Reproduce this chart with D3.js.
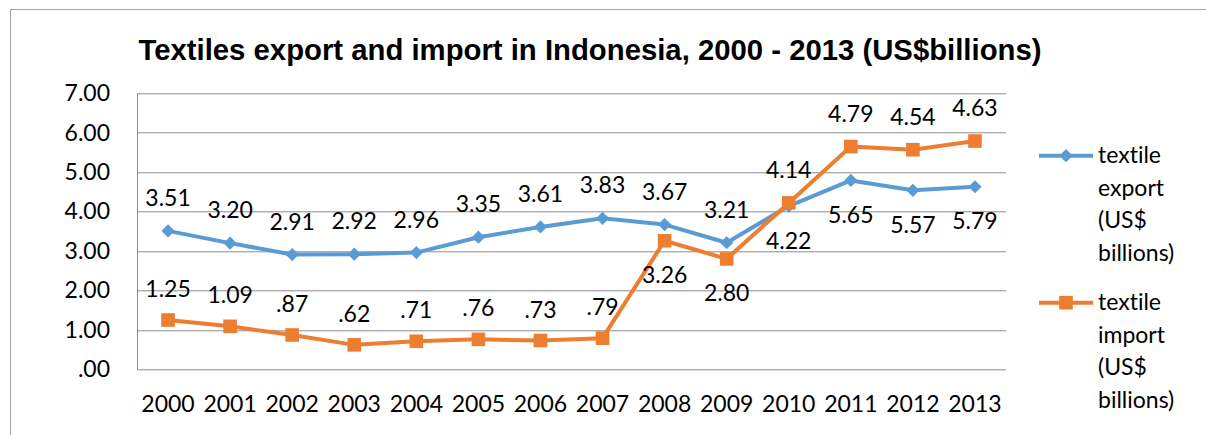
<!DOCTYPE html>
<meta charset="utf-8">
<title>Textiles export and import in Indonesia</title>
<style>
  body { margin: 0; background: #fff; }
  text { font-family: Lato, "Open Sans", sans-serif; fill: #000; font-variant-ligatures: none; }
  .title { font-family: "Liberation Sans", Arial, sans-serif; font-weight: bold; }
</style>
<body>
<script src="https://d3js.org/d3.v7.min.js"></script>
<div id="chart"></div>
<script>
// data
var years = ["2000", "2001", "2002", "2003", "2004", "2005", "2006",
             "2007", "2008", "2009", "2010", "2011", "2012", "2013"];
var exportVals = [3.51, 3.20, 2.91, 2.92, 2.96, 3.35, 3.61, 3.83, 3.67, 3.21, 4.14, 4.79, 4.54, 4.63];
var importVals = [1.25, 1.09, 0.87, 0.62, 0.71, 0.76, 0.73, 0.79, 3.26, 2.80, 4.22, 5.65, 5.57, 5.79];
var yTicks = [0, 1, 2, 3, 4, 5, 6, 7];
// where the import data labels sit in the original
var importLabelSide = ["above", "above", "above", "above", "above", "above", "above",
                       "above", "below", "below", "below", "below", "below", "below"];
var exportLegend = ["textile", "export", "(US$", "billions)"];
var importLegend = ["textile", "import", "(US$", "billions)"];
var titleText = "Textiles export and import in Indonesia, 2000 - 2013 (US$billions)";

var W = 1206, H = 435;
var margin = {top: 93.3, right: 200, bottom: 66, left: 137},
    width = 1006 - margin.left,
    height = 369.3 - margin.top;

var blue = "#5b9bd5", orange = "#ed7d31", grid = "#8c8c8c";
var fontSize = 23;

var svg = d3.select("#chart")
  .append("svg")
    .attr("width", W)
    .attr("height", H);

// outer chart border (runs off the right and bottom edge)
svg.append("rect")
  .attr("x", 10.5).attr("y", 9.5)
  .attr("width", W).attr("height", H)
  .attr("fill", "none")
  .attr("stroke", "#a6a6a6")
  .attr("stroke-width", 1);

svg.append("text")
  .attr("class", "title")
  .attr("x", 590)
  .attr("y", 59.5)
  .attr("text-anchor", "middle")
  .style("font-size", "29.3px")
  .text(titleText);

var g = svg.append("g")
  .attr("transform", "translate(" + margin.left + "," + margin.top + ")");

var x = d3.scaleBand()
  .domain(years)
  .range([0, width]);

var y = d3.scaleLinear()
  .domain([0, 7])
  .range([height, 0]);

function cx(i) { return x(years[i]) + x.bandwidth() / 2; }

// gridlines
g.append("g")
  .selectAll("line")
  .data(yTicks)
  .enter().append("line")
    .attr("x1", 0).attr("x2", width)
    .attr("y1", function(d) { return Math.round(y(d)) + 0.5; })
    .attr("y2", function(d) { return Math.round(y(d)) + 0.5; })
    .attr("stroke", grid)
    .attr("stroke-width", 1);

// value axis line
g.append("line")
  .attr("x1", 0.5).attr("x2", 0.5)
  .attr("y1", 0).attr("y2", height)
  .attr("stroke", grid);

// y axis labels
var yAxis = g.append("g")
  .call(d3.axisLeft(y).tickValues(yTicks).tickSize(0).tickPadding(27)
    .tickFormat(function(d) { return d3.format(".2f")(d).replace(/^0/, ""); }));
yAxis.select(".domain").remove();
yAxis.selectAll("text").style("font-size", fontSize + "px").attr("font-family", null);

// x axis labels
var xAxis = g.append("g")
  .attr("transform", "translate(0," + height + ")")
  .call(d3.axisBottom(x).tickSize(0).tickPadding(26));
xAxis.select(".domain").remove();
xAxis.selectAll("text").style("font-size", fontSize + "px").attr("font-family", null);

var line = d3.line()
  .x(function(d, i) { return cx(i); })
  .y(function(d) { return y(d); });

function diamond(s) { return "M0," + (-s) + "L" + s + ",0L0," + s + "L" + (-s) + ",0Z"; }

// export series
g.append("path")
  .datum(exportVals)
  .attr("d", line)
  .attr("fill", "none")
  .attr("stroke", blue)
  .attr("stroke-width", 4)
  .attr("stroke-linejoin", "round");

g.append("g")
  .selectAll("path")
  .data(exportVals)
  .enter().append("path")
    .attr("d", diamond(6.6))
    .attr("transform", function(d, i) { return "translate(" + cx(i) + "," + y(d) + ")"; })
    .attr("fill", blue);

// import series
g.append("path")
  .datum(importVals)
  .attr("d", line)
  .attr("fill", "none")
  .attr("stroke", orange)
  .attr("stroke-width", 4)
  .attr("stroke-linejoin", "round");

g.append("g")
  .selectAll("rect")
  .data(importVals)
  .enter().append("rect")
    .attr("x", function(d, i) { return cx(i) - 6.8; })
    .attr("y", function(d) { return y(d) - 6.8; })
    .attr("width", 13.6).attr("height", 13.6)
    .attr("fill", orange);

function fmt(v) { return d3.format(".2f")(v).replace(/^0/, ""); }

// data labels
g.append("g")
  .selectAll("text")
  .data(exportVals)
  .enter().append("text")
    .attr("x", function(d, i) { return cx(i); })
    .attr("y", function(d, i) { return y(Math.max(d, importVals[i])) - 25; })
    .attr("text-anchor", "middle")
    .style("font-size", fontSize + "px")
    .text(fmt);

g.append("g")
  .selectAll("text")
  .data(importVals)
  .enter().append("text")
    .attr("x", function(d, i) { return cx(i); })
    .attr("y", function(d, i) {
      return importLabelSide[i] === "above" ? y(d) - 23 : y(Math.min(d, exportVals[i])) + 42.5;
    })
    .attr("text-anchor", "middle")
    .style("font-size", fontSize + "px")
    .text(fmt);

// legend
function legendItem(ly, color, names, marker) {
  var lg = svg.append("g").attr("transform", "translate(1039," + ly + ")");
  lg.append("line")
    .attr("x1", 0).attr("x2", 54)
    .attr("stroke", color).attr("stroke-width", 4);
  if (marker === "diamond") {
    lg.append("path").attr("d", diamond(6.6)).attr("transform", "translate(27,0)").attr("fill", color);
  } else {
    lg.append("rect").attr("x", 27 - 6.8).attr("y", -6.8).attr("width", 13.6).attr("height", 13.6).attr("fill", color);
  }
  lg.selectAll("text")
    .data(names)
    .enter().append("text")
      .attr("x", 59)
      .attr("y", function(d, i) { return 7.6 + i * 32.5; })
      .style("font-size", fontSize + "px")
      .text(function(d) { return d; });
}
legendItem(155.7, blue, exportLegend, "diamond");
legendItem(302.7, orange, importLegend, "square");
</script>
</body>
